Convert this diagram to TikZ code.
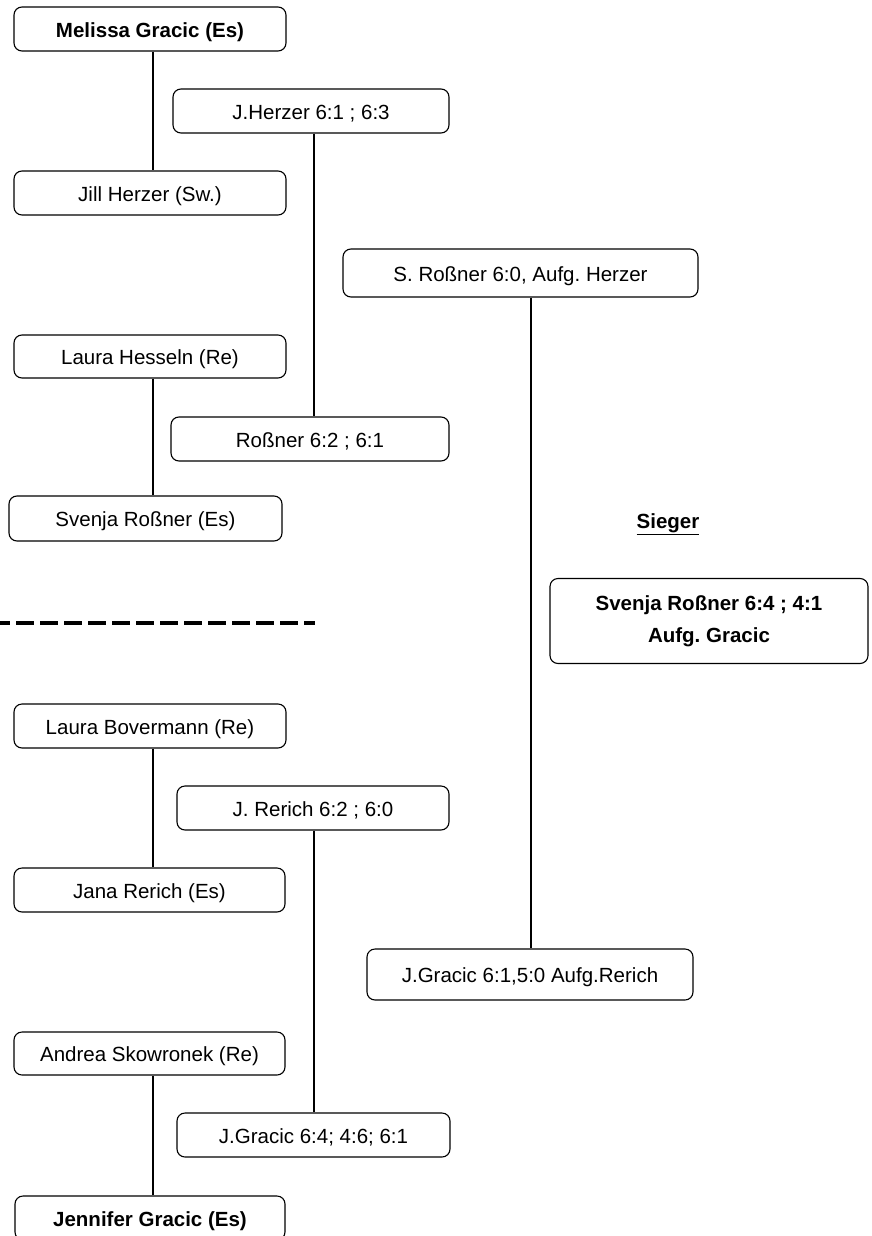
\documentclass[tikz,border=0pt]{standalone}
\usepackage{fontspec}
\setmainfont{Liberation Sans}
\frenchspacing
\begin{document}
\begin{tikzpicture}[x=1pt,y=-1pt,
  frame/.style={draw=black,line width=1.1pt,rounded corners=8pt,inner sep=0pt},
  box/.style={frame,font=\fontsize{20.5}{24}\selectfont,text height=16.5pt,text depth=0pt},
  bbox/.style={box,font=\fontsize{20.5}{24}\selectfont\bfseries},
  winbox/.style={frame,font=\fontsize{20.5}{32}\selectfont\bfseries,align=center},
  conn/.style={draw=black,line width=1.8pt}]
\useasboundingbox (0,0) rectangle (871,1236);
\clip (0,0) rectangle (871,1236);
% players
\node[bbox,minimum width=272pt,minimum height=44pt] (m1) at (150,29) {Melissa Gracic (Es)};
\node[box,minimum width=272pt,minimum height=44pt] (m2) at (150,193) {Jill Herzer (Sw.)};
\node[box,minimum width=272pt,minimum height=43pt] (m3) at (150,356.5) {Laura Hesseln (Re)};
\node[box,minimum width=273pt,minimum height=45pt] (m4) at (145.5,518.5) {Svenja Roßner (Es)};
\node[box,minimum width=272pt,minimum height=44pt] (m5) at (150,726) {Laura Bovermann (Re)};
\node[box,minimum width=271pt,minimum height=44pt] (m6) at (149.5,890) {Jana Rerich (Es)};
\node[box,minimum width=271pt,minimum height=43pt] (m7) at (149.5,1053.5) {Andrea Skowronek (Re)};
\node[bbox,minimum width=270pt,minimum height=44pt] (m8) at (150,1218) {Jennifer Gracic (Es)};
% first round results
\node[box,minimum width=276pt,minimum height=44pt] (h1) at (311,111) {J.Herzer 6:1 ; 6:3};
\node[box,minimum width=278pt,minimum height=44pt] (h2) at (310,439) {Roßner 6:2 ; 6:1};
\node[box,minimum width=272pt,minimum height=44pt] (h3) at (313,808) {J. Rerich 6:2 ; 6:0};
\node[box,minimum width=273pt,minimum height=44pt] (h4) at (313.5,1135) {J.Gracic 6:4; 4:6; 6:1};
% semifinal results
\node[box,minimum width=355pt,minimum height=48pt] (s1) at (520.5,273) {S. Roßner 6:0, Aufg. Herzer};
\node[box,minimum width=326pt,minimum height=51pt] (s2) at (530,974.5) {J.Gracic 6:1,5:0 Aufg.Rerich};
% winner
\node[font=\fontsize{20.5}{24}\selectfont\bfseries,inner sep=0pt] (sieger) at (668,524) {\underline{Sieger}};
\node[winbox,minimum width=318pt,minimum height=85pt] (w) at (709,621) {Svenja Roßner 6:4 ; 4:1\\Aufg. Gracic};
% connectors
\draw[conn] (m1.south -| 153,0) -- (m2.north -| 153,0);
\draw[conn] (m3.south -| 153,0) -- (m4.north -| 153,0);
\draw[conn] (m5.south -| 153,0) -- (m6.north -| 153,0);
\draw[conn] (m7.south -| 153,0) -- (m8.north -| 153,0);
\draw[conn] (h1.south -| 314,0) -- (h2.north -| 314,0);
\draw[conn] (h3.south -| 314,0) -- (h4.north -| 314,0);
\draw[conn] (s1.south -| 531,0) -- (s2.north -| 531,0);
% divider
\coordinate (d1) at (0,623);
\coordinate (d2) at (315,623);
\draw[line width=4pt,dash pattern=on 18pt off 6pt,dash phase=8pt] (d1) -- (d2);
\end{tikzpicture}
\end{document}
